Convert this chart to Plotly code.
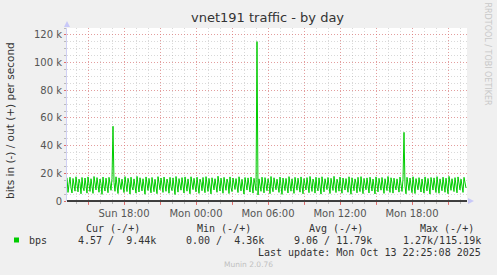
import pandas as pd
import plotly.graph_objects as go

# ---- data (kbit/s, out direction, 5-minute samples) ----
out_kbps = [
    16.8, 6.2, 12.1, 17.2, 9.5, 5.8, 16.3, 11.8, 7.1, 17.5, 10.4, 6.6, 15.8, 12.7, 5.2, 17.0, 9.9, 7.4, 16.6, 11.2,
    5.7, 17.4, 13.1, 6.9, 16.1, 9.2, 5.5, 17.7, 11.6, 8.0, 16.9, 10.1, 6.3, 15.9, 12.4, 4.8, 17.3, 10.8, 7.2, 16.5,
    9.7, 6.0, 17.1, 11.9, 7.7, 16.2, 54.0, 13.3, 7.0, 17.5, 10.6, 5.4, 16.7, 12.2, 8.3, 15.8, 9.4, 6.1, 17.6, 11.3,
    6.8, 16.4, 12.8, 5.0, 17.2, 10.3, 7.9, 16.0, 11.5, 5.7, 17.8, 9.6, 6.5, 16.8, 12.5, 7.3, 16.1, 10.9, 4.9, 17.4,
    11.8, 7.6, 16.3, 10.0, 5.9, 17.0, 13.1, 6.7, 15.7, 10.7, 5.3, 17.6, 12.1, 8.1, 16.6, 9.3, 6.2, 17.3, 11.4, 7.0,
    15.9, 12.6, 5.6, 17.1, 10.2, 7.5, 16.7, 11.7, 4.7, 17.7, 10.5, 6.4, 16.2, 12.9, 7.8, 16.9, 9.8, 5.8, 17.4, 12.0,
    7.1, 16.0, 11.1, 5.2, 17.5, 12.4, 8.2, 16.4, 9.5, 6.6, 17.2, 10.8, 5.5, 15.8, 13.2, 7.4, 17.0, 10.1, 6.0, 17.6,
    11.6, 6.9, 16.3, 10.4, 5.1, 16.8, 12.7, 8.0, 16.1, 9.7, 6.3, 17.9, 11.3, 7.2, 16.5, 12.0, 5.6, 17.1, 10.6, 7.7,
    15.9, 13.0, 5.4, 17.4, 9.9, 6.8, 16.6, 11.8, 8.3, 16.2, 11.0, 6.1, 17.5, 12.3, 7.3, 15.7, 9.4, 5.0, 17.0, 11.4,
    7.9, 16.7, 10.2, 6.5, 17.3, 12.8, 5.7, 16.4, 10.8, 7.6, 115.19, 4.36, 16.0, 12.1, 7.0, 17.2, 9.7, 5.9, 16.9, 11.7,
    7.4, 16.1, 12.5, 5.3, 17.7, 10.5, 6.7, 16.8, 11.9, 8.1, 15.8, 10.0, 6.2, 17.3, 11.2, 4.8, 16.6, 12.9, 7.5, 16.3,
    9.6, 5.8, 17.6, 11.5, 7.1, 16.0, 10.7, 5.5, 17.1, 12.2, 7.8, 16.5, 9.3, 6.4, 17.4, 12.6, 5.2, 16.2, 11.0, 8.0,
    16.9, 10.3, 6.0, 17.7, 11.8, 6.9, 15.9, 13.1, 5.7, 17.2, 9.9, 7.3, 16.7, 11.4, 5.0, 17.5, 12.1, 6.6, 16.1, 10.6,
    8.2, 17.0, 12.4, 5.4, 16.4, 9.7, 7.6, 17.8, 10.9, 6.1, 15.8, 12.8, 7.1, 17.3, 10.1, 5.6, 16.6, 11.6, 7.9, 16.2,
    9.4, 6.3, 17.5, 12.0, 4.9, 16.8, 11.2, 7.4, 16.0, 13.0, 5.9, 17.1, 10.4, 6.8, 17.6, 11.7, 5.3, 16.3, 9.8, 8.1,
    16.7, 12.3, 5.8, 17.2, 10.7, 7.2, 15.9, 11.5, 5.1, 17.4, 12.7, 6.6, 16.4, 9.5, 7.8, 17.0, 11.0, 5.5, 16.1, 11.9,
    7.5, 17.7, 10.2, 6.2, 16.8, 12.9, 5.7, 16.5, 11.3, 8.0, 16.0, 9.9, 6.4, 17.3, 12.1, 6.9, 15.8, 49.6, 10.8, 5.2,
    17.1, 12.5, 7.6, 16.6, 9.6, 6.0, 17.5, 11.8, 5.4, 16.2, 10.6, 8.1, 16.9, 13.1, 6.5, 15.9, 10.0, 5.7, 17.4, 11.4,
    7.3, 16.3, 12.2, 5.0, 17.0, 10.9, 7.9, 16.7, 9.7, 6.1, 17.6, 12.7, 5.6, 16.0, 11.1, 7.4, 17.2, 10.3, 6.3, 16.5,
    11.9, 5.3, 17.8, 9.8, 7.7, 16.1, 12.6, 6.8, 16.9, 10.7, 5.9, 17.4, 11.5, 8.0, 15.8, 10.1, 6.2, 17.1, 11.2, 9.44,
]
start_time = "2025-10-12 13:15"
step = "5min"

x_major_ticks = ["2025-10-12 15:00", "2025-10-12 18:00", "2025-10-12 21:00", "2025-10-13 00:00",
                 "2025-10-13 03:00", "2025-10-13 06:00", "2025-10-13 09:00", "2025-10-13 12:00",
                 "2025-10-13 15:00", "2025-10-13 18:00", "2025-10-13 21:00"]
x_major_labels = ["", "Sun 18:00", "", "Mon 00:00", "", "Mon 06:00", "", "Mon 12:00", "", "Mon 18:00", ""]
y_ticks = [0, 20000, 40000, 60000, 80000, 100000, 120000]
y_labels = ["0", "20 k", "40 k", "60 k", "80 k", "100 k", "120 k"]

legend_header = ["Cur (-/+)", "Min (-/+)", "Avg (-/+)", "Max (-/+)"]
legend_values = ["4.57 /  9.44k", "0.00 /  4.36k", "9.06 / 11.79k", "1.27k/115.19k"]
series_name = "bps"
title = "vnet191 traffic - by day"
ylabel = "bits in (-) / out (+) per second"
last_update = "Last update: Mon Oct 13 22:25:08 2025"
footer = "Munin 2.0.76"
side_text = "RRDTOOL / TOBI OETIKER"

# ---- layout geometry (pixels) ----
W, H = 497, 275
L, R, T, B = 67, 467, 28, 201   # plot area edges


def px(x, y):
    return (x - L) / (R - L), (B - y) / (B - T)


times = pd.date_range(start=start_time, periods=len(out_kbps), freq=step)
out_bps = [v * 1000 for v in out_kbps]

GREEN = "#00CC00"
MAJOR = "rgba(235,110,110,0.55)"
MINOR = "rgba(160,160,160,0.40)"
DOTS = "1px,2px"

fig = go.Figure()
fig.add_trace(go.Scatter(x=times, y=out_bps, mode="lines",
                         line=dict(color=GREEN, width=1), showlegend=False,
                         hoverinfo="skip"))

fig.update_layout(
    width=W, height=H,
    margin=dict(l=L, r=W - R, t=T, b=H - B, pad=0),
    paper_bgcolor="#F0F0F0", plot_bgcolor="#FFFFFF",
    font=dict(family="DejaVu Sans", size=10, color="#555555"),
    showlegend=False,
)
fig.update_xaxes(
    range=[times[0], times[-1] + pd.Timedelta(step)],
    tickmode="array", tickvals=x_major_ticks, ticktext=x_major_labels,
    showgrid=True, gridcolor=MAJOR, griddash=DOTS, gridwidth=1,
    ticks="outside", ticklen=3, tickcolor="rgba(230,90,90,0.8)",
    minor=dict(dtick=3600000, tick0="2025-10-12 00:00", showgrid=True,
               gridcolor=MINOR, griddash=DOTS,
               ticks="outside", ticklen=2, tickcolor="rgba(150,150,150,0.6)"),
    showline=False, zeroline=False,
    tickfont=dict(family="DejaVu Sans", size=10, color="#555555"),
)
fig.update_yaxes(
    range=[0, 125000],
    tickmode="array", tickvals=y_ticks, ticktext=y_labels,
    showgrid=True, gridcolor=MAJOR, griddash=DOTS, gridwidth=1,
    ticks="outside", ticklen=2, tickcolor="rgba(230,90,90,0.8)",
    minor=dict(dtick=5000, tick0=0, showgrid=True,
               gridcolor=MINOR, griddash=DOTS,
               ticks="outside", ticklen=2, tickcolor="rgba(150,150,150,0.6)"),
    showline=True, linecolor="#D0D0F4", linewidth=1, zeroline=False,
    tickfont=dict(family="DejaVu Sans", size=10, color="#555555"),
)

shapes = []
# zero line
shapes.append(dict(type="line", xref="paper", yref="paper", x0=0, x1=1, y0=0, y1=0,
                   line=dict(color="#000000", width=1.5), layer="above"))
# arrows
ax0, ay0 = px(L - 3, T - 1)
ax1, ay1 = px(L + 3, T - 1)
axt, ayt = px(L, T - 7)
shapes.append(dict(type="path", xref="paper", yref="paper",
                   path=f"M{ax0},{ay0} L{ax1},{ay1} L{axt},{ayt} Z",
                   fillcolor="#C8C8F8", line=dict(width=0)))
bx0, by0 = px(R + 1, B - 3)
bx1, by1 = px(R + 1, B + 3)
bxt, byt = px(R + 7, B)
shapes.append(dict(type="path", xref="paper", yref="paper",
                   path=f"M{bx0},{by0} L{bx1},{by1} L{bxt},{byt} Z",
                   fillcolor="#C8C8F8", line=dict(width=0)))
# legend colour square
sx0, sy0 = px(14, 237.5)
sx1, sy1 = px(19, 242.5)
shapes.append(dict(type="rect", xref="paper", yref="paper", x0=sx0, x1=sx1, y0=sy1, y1=sy0,
                   fillcolor=GREEN, line=dict(width=0)))
fig.update_layout(shapes=shapes)

ann = []


def text(x, y, s, size=10, color="#333333", family="DejaVu Sans", xanchor="center", angle=0):
    xp, yp = px(x, y)
    ann.append(dict(x=xp, y=yp, xref="paper", yref="paper", text=s, showarrow=False,
                    xanchor=xanchor, yanchor="middle", textangle=angle,
                    font=dict(size=size, color=color, family=family)))


text(267, 18, title, size=13, color="#333333")
text(10, 121, ylabel, size=10.5, color="#333333", angle=-90)
text(487.5, 54, side_text, size=8, color="#C8C8C8", angle=90)

mono = "DejaVu Sans Mono"
for s, xr in zip(legend_header, [142, 253, 365, 476]):
    text(xr, 228, s.replace(" ", "&nbsp;"), size=10, color="#333333", family=mono, xanchor="right")
text(27, 240, series_name, size=10, color="#333333", family=mono, xanchor="left")
for s, xr in zip(legend_values, [158, 266, 374, 483]):
    text(xr, 240, s.replace(" ", "&nbsp;"), size=10, color="#333333", family=mono, xanchor="right")
text(483, 252, last_update.replace(" ", "&nbsp;"), size=10, color="#333333", family=mono, xanchor="right")
text(248, 264, footer, size=7.5, color="#C0C0C0")

fig.update_layout(annotations=ann)
fig.write_html("out.html")
